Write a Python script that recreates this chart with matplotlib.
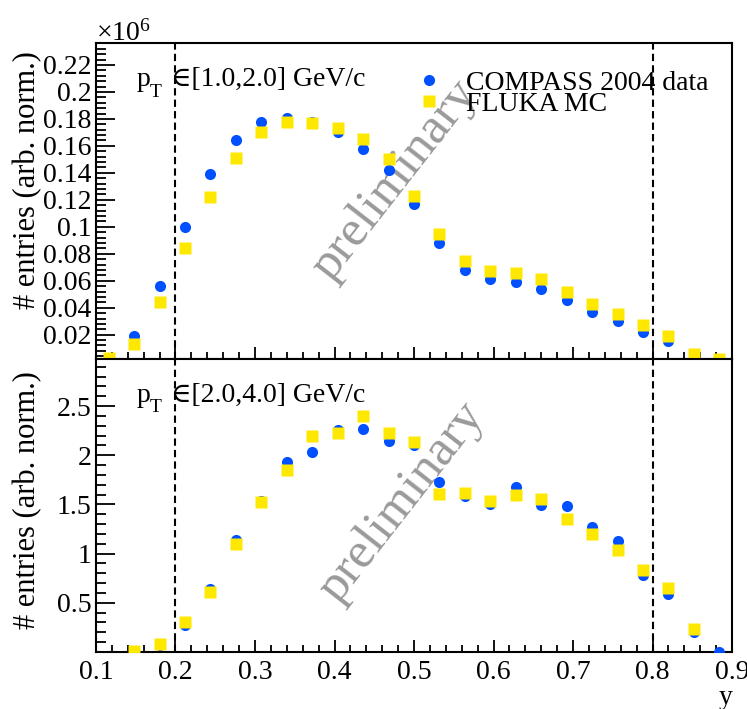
import numpy as np
import matplotlib
matplotlib.use("Agg")
import matplotlib.pyplot as plt
from matplotlib.ticker import MultipleLocator

plt.rcParams["font.family"] = ["Liberation Serif", "DejaVu Serif"]
plt.rcParams["mathtext.fontset"] = "custom"
plt.rcParams["mathtext.rm"] = "Liberation Serif"
plt.rcParams["mathtext.it"] = "Liberation Serif:italic"
plt.rcParams["mathtext.fallback"] = "stix"
plt.rcParams["axes.linewidth"] = 1.5

# bin centres in y (inelasticity)
y_bins = [0.116, 0.148, 0.180, 0.212, 0.244, 0.276, 0.308, 0.340, 0.372,
          0.404, 0.436, 0.468, 0.500, 0.532, 0.564, 0.596, 0.628, 0.660,
          0.692, 0.724, 0.756, 0.788, 0.820, 0.852, 0.884]

# pT in [1.0, 2.0] GeV/c, in units of 1e6
low_data = [np.nan, 0.019, 0.056, 0.100, 0.139, 0.164, 0.178, 0.181, 0.178,
            0.170, 0.158, 0.142, 0.117, 0.088, 0.068, 0.061, 0.059, 0.054,
            0.046, 0.037, 0.030, 0.022, 0.015, 0.005, np.nan]
low_mc = [0.003, 0.013, 0.044, 0.084, 0.122, 0.151, 0.170, 0.178, 0.177,
          0.173, 0.165, 0.150, 0.123, 0.095, 0.075, 0.067, 0.066, 0.061,
          0.052, 0.043, 0.035, 0.027, 0.019, 0.006, 0.002]

# pT in [2.0, 4.0] GeV/c
high_data = [np.nan, 0.01, 0.07, 0.27, 0.64, 1.14, 1.54, 1.93, 2.03,
             2.26, 2.27, 2.15, 2.11, 1.73, 1.585, 1.51, 1.68, 1.49,
             1.48, 1.27, 1.13, 0.78, 0.59, 0.20, 0.0]
high_mc = [np.nan, 0.01, 0.08, 0.30, 0.61, 1.10, 1.53, 1.85, 2.20,
           2.23, 2.40, 2.23, 2.14, 1.61, 1.62, 1.54, 1.60, 1.56,
           1.35, 1.20, 1.04, 0.83, 0.65, 0.23, np.nan]

low_ticks = [0.02, 0.04, 0.06, 0.08, 0.1, 0.12, 0.14, 0.16, 0.18, 0.2, 0.22]
high_ticks = [0.5, 1, 1.5, 2, 2.5]
x_ticks = [0.1, 0.2, 0.3, 0.4, 0.5, 0.6, 0.7, 0.8, 0.9]
y_cuts = [0.2, 0.8]

BLUE = "#0050ff"
YELLOW = "#ffe800"
FS = 20

fig = plt.figure(figsize=(7.47, 7.09), dpi=100)
ax1 = fig.add_axes([0.1285, 0.4937, 0.8515, 0.4457])
ax2 = fig.add_axes([0.1285, 0.0804, 0.8515, 0.4133], sharex=ax1)


def style(ax, ticks, minor):
    ax.set_xlim(0.1, 0.9)
    ax.set_xticks(x_ticks)
    ax.xaxis.set_minor_locator(MultipleLocator(0.02))
    ax.set_yticks(ticks, [f"{t:g}" for t in ticks])
    ax.yaxis.set_minor_locator(MultipleLocator(minor))
    ax.tick_params(which="both", direction="in", top=False, right=False,
                   labelsize=FS, width=1.3)
    ax.tick_params(axis="y", which="major", length=14)
    ax.tick_params(axis="y", which="minor", length=7)
    ax.tick_params(axis="x", which="major", length=9, pad=6)
    ax.tick_params(axis="x", which="minor", length=5)
    for c in y_cuts:
        ax.axvline(c, color="black", lw=1.5, ls=(0, (3.5, 2)), zorder=1)
    ax.set_ylabel("# entries (arb. norm.)", fontsize=22)


def pt_label(ax, lo, hi, ypos):
    ax.text(0.0645, ypos, "p", transform=ax.transAxes, fontsize=FS,
            va="baseline")
    ax.text(0.0845, ypos - 0.035, "T", transform=ax.transAxes, fontsize=14,
            va="baseline")
    ax.text(0.118, ypos, f"∈[{lo:.1f},{hi:.1f}] GeV/c", transform=ax.transAxes,
            fontsize=FS, va="baseline")


for ax, d, m in [(ax1, low_data, low_mc), (ax2, high_data, high_mc)]:
    ax.plot(y_bins, d, "o", color=BLUE, ms=8, mec="none", zorder=3,
            label="COMPASS 2004 data")
    ax.plot(y_bins, m, "s", color=YELLOW, ms=8, mec="none", zorder=4,
            label="FLUKA MC")

style(ax1, low_ticks, 0.004)
ax1.set_ylim(0.002, 0.2363)
ax1.tick_params(axis="x", labelbottom=False)
ax1.yaxis.set_label_coords(-0.085, 0.566)
ax1.text(0.0, 1.006, r"$\times10^{6}$", transform=ax1.transAxes,
         fontsize=20, ha="left", va="baseline")
pt_label(ax1, 1.0, 2.0, 0.864)
ax1.legend(loc="upper left", bbox_to_anchor=(0.5016, 0.912), frameon=False,
           fontsize=FS, handlelength=1.0, handletextpad=0.82,
           labelspacing=-0.17, borderpad=0, borderaxespad=0)

style(ax2, high_ticks, 0.1)
ax2.set_ylim(0, 2.98)
ax2.yaxis.set_label_coords(-0.085, 0.519)
pt_label(ax2, 2.0, 4.0, 0.853)
ax2.set_xlabel("y", fontsize=FS, loc="right", labelpad=0)

# watermark
ax1.text(0.47, 0.566, "preliminary", transform=ax1.transAxes, fontsize=37,
         color="#9a9a9a", rotation=52, ha="center", va="center", zorder=2)
ax2.text(0.481, 0.512, "preliminary", transform=ax2.transAxes, fontsize=37,
         color="#9a9a9a", rotation=52, ha="center", va="center", zorder=2)

fig.savefig("out.png", dpi=100)
